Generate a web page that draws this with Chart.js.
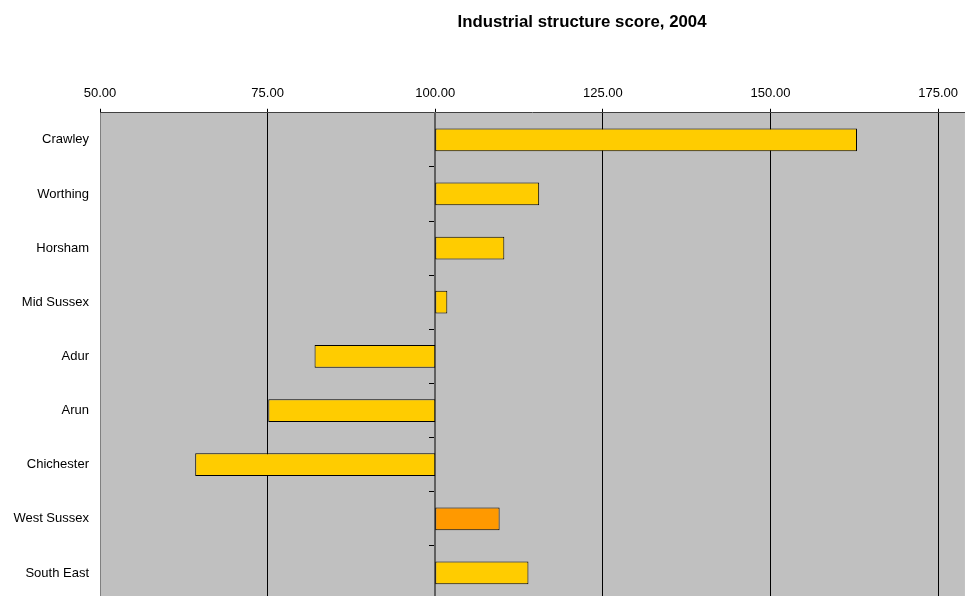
<!DOCTYPE html>
<html>
<head>
<meta charset="utf-8">
<script src="https://cdn.jsdelivr.net/npm/chart.js@4/dist/chart.umd.min.js"></script>
<style>
  html, body { margin: 0; padding: 0; overflow: hidden; background: #fff; }
  canvas { display: block; }
</style>
</head>
<body>
<canvas id="myChart" width="966" height="600"></canvas>
<script>
var areas = ['Crawley', 'Worthing', 'Horsham', 'Mid Sussex', 'Adur', 'Arun', 'Chichester', 'West Sussex', 'South East'];
var scores = [162.9, 115.5, 110.3, 101.8, 82.0, 75.1, 64.2, 109.6, 113.9];
var barColours = ['#FFCC00', '#FFCC00', '#FFCC00', '#FFCC00', '#FFCC00', '#FFCC00', '#FFCC00', '#FF9900', '#FFCC00'];
var baseline = 100;
var xTicks = [50, 75, 100, 125, 150, 175];

Chart.defaults.font.family = "'Liberation Sans', Arial, sans-serif";
Chart.defaults.color = '#000';

// bars float from the 100 baseline to the score
var barData = [];
for (var i = 0; i < scores.length; i++) {
  barData.push([baseline, scores[i]]);
}

var plotBackground = {
  id: 'plotBackground',
  beforeDraw: function (chart) {
    var a = chart.chartArea;
    var c = chart.ctx;
    c.save();
    c.fillStyle = '#C0C0C0';
    c.fillRect(a.left, a.top, a.right - a.left, a.bottom - a.top);
    c.restore();
  }
};

// the title in the original sits right of centre
var titleShift = {
  id: 'titleShift',
  afterLayout: function (chart) {
    chart.titleBlock.left += 198;
  }
};

var config = {
  type: 'bar',
  data: {
    labels: areas,
    datasets: [{
      data: barData,
      backgroundColor: barColours,
      borderColor: '#000',
      borderWidth: 1,
      borderSkipped: false,
      categoryPercentage: 1,
      barPercentage: 0.42
    }]
  },
  options: {
    indexAxis: 'y',
    responsive: false,
    animation: false,
    layout: { padding: 0 },
    plugins: {
      legend: { display: false },
      tooltip: { enabled: false },
      title: {
        display: true,
        text: 'Industrial structure score, 2004',
        font: { size: 16.8, weight: 'bold' },
        color: '#000',
        padding: { top: 12, bottom: 45 }
      }
    },
    scales: {
      x: {
        type: 'linear',
        position: 'top',
        min: 50,
        max: 179,
        afterBuildTicks: function (axis) {
          axis.ticks = xTicks.map(function (v) { return { value: v }; });
        },
        ticks: {
          font: { size: 13 },
          color: '#000',
          padding: 8,
          maxRotation: 0,
          callback: function (v) { return Number(v).toFixed(2); }
        },
        grid: {
          color: function (ctx) {
            return ctx.tick && ctx.tick.value === 50 ? '#808080' : '#000';
          },
          lineWidth: 1,
          tickLength: 4,
          tickColor: '#000'
        },
        border: { display: true, color: '#404040', width: 1 }
      },
      y: {
        type: 'category',
        position: 'left',
        afterFit: function (axis) {
          axis.width = 100;
          axis.paddingTop = 0;
          axis.paddingBottom = 0;
        },
        grid: { display: false },
        border: { display: false },
        ticks: { font: { size: 13 }, color: '#000', padding: 3 }
      },
      y2: {
        type: 'category',
        labels: areas,
        position: { x: baseline },
        offset: true,
        grid: {
          display: true,
          drawOnChartArea: false,
          offset: true,
          tickLength: 5,
          color: '#000',
          tickColor: '#000'
        },
        border: { display: true, color: '#606060', width: 2 },
        ticks: { display: false }
      }
    }
  },
  plugins: [plotBackground, titleShift]
};

var ctx = document.getElementById('myChart').getContext('2d');
window.myBar = new Chart(ctx, config);
</script>
</body>
</html>
